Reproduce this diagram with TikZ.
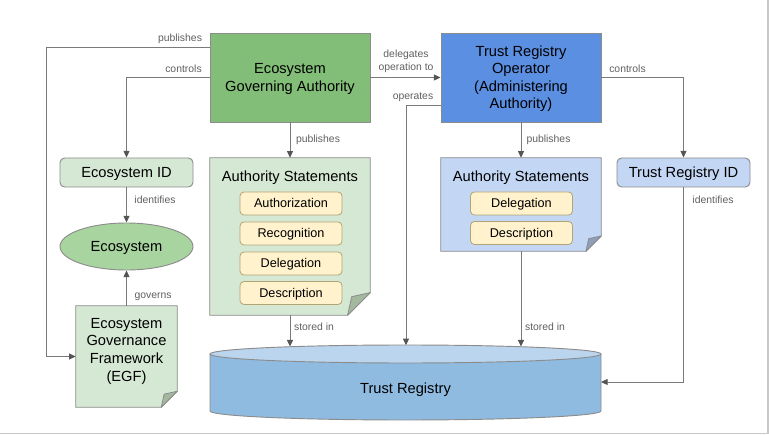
\documentclass[tikz,border=0pt]{standalone}
\usepackage{fontspec}
\setmainfont{Liberation Sans}
\usetikzlibrary{arrows.meta,shapes.geometric,backgrounds}
\definecolor{egafill}{HTML}{82BE77}
\definecolor{trofill}{HTML}{5B8FE2}
\definecolor{lgreen}{HTML}{D5E8D4}
\definecolor{mgreen}{HTML}{A8D4A0}
\definecolor{lblue}{HTML}{C3D6F4}
\definecolor{yel}{HTML}{FFF2CC}
\definecolor{yelline}{HTML}{B3A474}
\definecolor{cylside}{HTML}{8FBBE1}
\definecolor{cyltop}{HTML}{BBD5EE}
\definecolor{boxline}{HTML}{8C8C8C}
\definecolor{conline}{HTML}{7A7A7A}
\definecolor{tipcol}{HTML}{555555}
\definecolor{lblcol}{HTML}{5F5F5F}
\definecolor{gfold}{HTML}{A3B89D}
\definecolor{bfold}{HTML}{8E9DBA}
\definecolor{framecol}{HTML}{C8C8C8}
\newcommand\docshape[4]{%
  \filldraw[draw=boxline, fill=#3, line width=0.7pt] (#1.north west) -- (#1.north east) -- ([yshift=#2]#1.south east) -- ([xshift=-#2]#1.south east) -- (#1.south west) -- cycle;
  \filldraw[draw=boxline, fill=#4, line width=0.6pt, line join=round] ([yshift=#2]#1.south east) -- ([xshift=-#2]#1.south east) -- ([xshift=-0.82*#2, yshift=0.82*#2]#1.south east) -- cycle;}
\tikzset{
  f11/.style={font=\fontsize{11}{13.2}\selectfont, text height=9.96pt, text depth=2.33pt},
  mainbox/.style={f11, draw=boxline, line width=0.7pt, minimum width=120pt, minimum height=66.75pt, align=center, inner sep=0pt},
  idbox/.style={f11, draw=boxline, line width=0.7pt, rounded corners=3.5pt, minimum width=99.75pt, minimum height=21.75pt, inner sep=0pt},
  docarea/.style={minimum width=120pt, inner sep=0pt, draw=none},
  doctitle/.style={f11, inner sep=0pt},
  subbox/.style={draw=yelline, fill=yel, line width=0.6pt, rounded corners=3pt, minimum width=76.5pt, minimum height=17.25pt, inner sep=0pt, font=\fontsize{9.5}{11}\selectfont, text height=8.6pt, text depth=2.01pt},
  conn/.style={draw=conline, line width=0.75pt, -{Triangle[width=4.5pt,length=5pt,fill=tipcol,color=tipcol]}},
  lbl/.style={inner sep=0pt, text=lblcol, font=\fontsize{7.8}{9.75}\selectfont, align=center},
}
\begin{document}
\begin{tikzpicture}[x=0.75pt, y=-0.75pt]
\useasboundingbox (0,0) rectangle (769,435);
\draw[framecol, line width=0.9pt] (0,433.5) -- (768,433.5) -- (768,0);

% main boxes
\node[mainbox, fill=egafill, text height=23.16pt, text depth=2.33pt] (ega) at (290,77.5) {Ecosystem\\Governing Authority};
\node[mainbox, fill=trofill, text height=49.56pt, text depth=2.33pt] (tro) at (521,77.5) {Trust Registry\\Operator\\(Administering\\Authority)};

% ids
\node[idbox, fill=lgreen] (ecoid) at (126.5,172.5) {Ecosystem ID};
\node[idbox, fill=lblue] (trid) at (683.5,172.5) {Trust Registry ID};

% ecosystem ellipse
\node[f11, ellipse, draw=boxline, line width=0.7pt, fill=mgreen, minimum width=99.75pt, minimum height=35.25pt, inner sep=0pt] (eco) at (126.5,246.5) {Ecosystem};

% documents
\node[docarea, f11, minimum width=75.75pt, minimum height=75.75pt, align=center, text height=49.56pt, text depth=12.7pt] (egf) at (126.5,356.5) {Ecosystem\\Governance\\Framework\\(EGF)};
\node[docarea, minimum height=117.75pt] (asl) at (290,236.5) {};
\node[docarea, minimum height=69.75pt] (asr) at (521,204.5) {};
\begin{scope}[on background layer]
  \docshape{egf}{12pt}{lgreen}{gfold}
  \docshape{asl}{17pt}{lgreen}{gfold}
  \docshape{asr}{11.5pt}{lblue}{bfold}
\end{scope}
\node[doctitle] (aslt) at (290,176) {Authority Statements};
\node[doctitle] (asrt) at (521,176) {Authority Statements};

\node[subbox] (s1) at (291,203.5) {Authorization};
\node[subbox] (s2) at (291,233.5) {Recognition};
\node[subbox] (s3) at (291,263.5) {Delegation};
\node[subbox] (s4) at (291,293) {Description};
\node[subbox] (r1) at (521.5,203.5) {Delegation};
\node[subbox] (r2) at (521.5,233) {Description};

% trust registry cylinder
\fill[cylside] (210,354) -- (210,411) arc[start angle=180, end angle=360, x radius=146.625pt, y radius=6.75pt] -- (601,354) arc[start angle=0, end angle=-180, x radius=146.625pt, y radius=6.75pt] -- cycle;
\draw[boxline, line width=0.7pt] (210,354) -- (210,411) arc[start angle=180, end angle=360, x radius=146.625pt, y radius=6.75pt] -- (601,354);
\filldraw[draw=boxline, fill=cyltop, line width=0.7pt] (405.5,354) ellipse[x radius=146.625pt, y radius=6.75pt];
\node[f11, inner sep=0pt] (tr) at (405.5,388) {Trust Registry};
\coordinate (trA) at (290,346.6);
\coordinate (trB) at (406,345.3);
\coordinate (trC) at (521,346.6);
\coordinate (trR) at (601,382);

% connectors
\coordinate (pl) at (46,48);
\draw[conn] (ega.west |- pl) -- (pl) |- (egf.west);
\draw[conn] (ega.west) -| (ecoid.north);
\draw[conn] (ecoid.south) -- (eco.north);
\draw[conn] (egf.north) -- (eco.south);
\draw[conn] (ega.south) -- (asl.north);
\draw[conn] (ega.east) -- (tro.west);
\coordinate (op) at (406,106);
\draw[conn] (tro.west |- op) -- (op) -- (trB);
\draw[conn] (tro.south) -- (asr.north);
\draw[conn] (tro.east) -| (trid.north);
\draw[conn] (trid.south) |- (trR);
\draw[conn] (asl.south) -- (trA);
\draw[conn] (asr.south) -- (trC);

% labels
\node[lbl] (l1) at (180,39) {publishes};
\node[lbl] (l2) at (183.5,69) {controls};
\node[lbl] (l3) at (318,140) {publishes};
\node[lbl] (l4) at (155,200) {identifies};
\node[lbl] (l5) at (153,297) {governs};
\node[lbl] (l6) at (406,61.5) {delegates\\operation to};
\node[lbl] (l7) at (413,97.5) {operates};
\node[lbl] (l8) at (548.5,140) {publishes};
\node[lbl] (l9) at (627.5,69) {controls};
\node[lbl] (l10) at (713,200) {identifies};
\node[lbl] (l11) at (314,327) {stored in};
\node[lbl] (l12) at (545,327) {stored in};
\end{tikzpicture}
\end{document}
